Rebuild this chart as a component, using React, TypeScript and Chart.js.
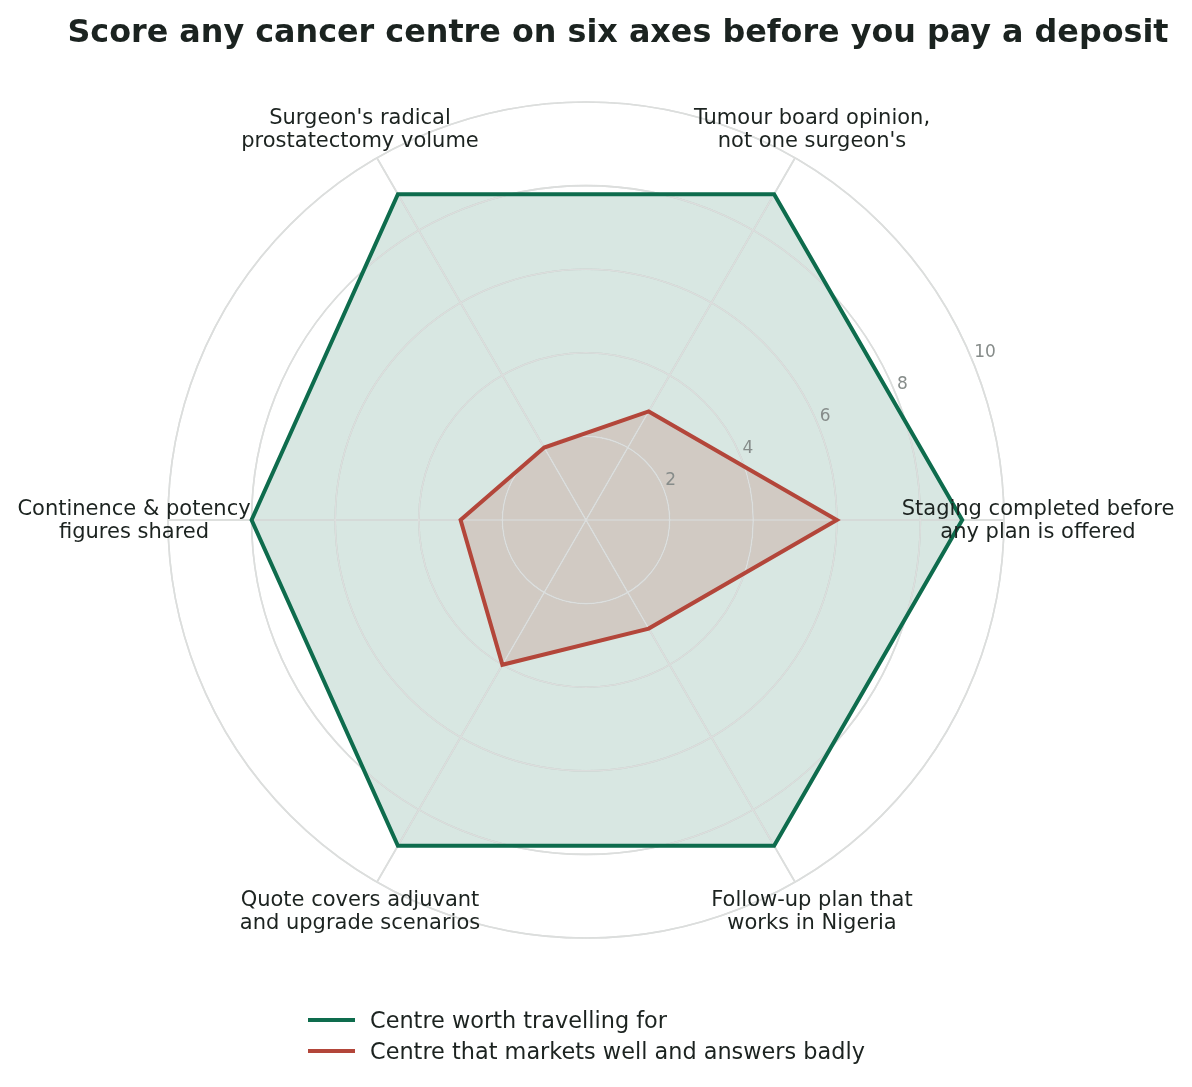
import React, { useEffect, useRef } from 'react';
import { Chart, registerables } from 'chart.js';

Chart.register(...registerables);

// axes in drawing order: starts at 3 o'clock, runs clockwise
const categories: string[][] = [
  ['Staging completed before', 'any plan is offered'],
  ['Follow-up plan that', 'works in Nigeria'],
  ['Quote covers adjuvant', 'and upgrade scenarios'],
  ['Continence & potency', 'figures shared'],
  ["Surgeon's radical", 'prostatectomy volume'],
  ['Tumour board opinion,', "not one surgeon's"],
];

const goodCentre = [9, 9, 9, 8, 9, 9];
const badCentre = [6, 3, 4, 3, 2, 3];
const tickValues = [2, 4, 6, 8, 10];

const seriesNames = ['Centre worth travelling for', 'Centre that markets well and answers badly'];

const GREEN = '#0e6c4d';
const RED = '#b3463a';
const FONT = '"DejaVu Sans", sans-serif';

const GREEN_LINE = 1; // dataset index of the green outline

// text around the web + radial tick labels drawn by hand, matplotlib-style
const axisText = {
  id: 'axisText',
  beforeDatasetDraw(chart: any, args: any) {
    // put the grid back on top of the fills, under the outlines
    if (args.index === GREEN_LINE) chart.scales.r.drawGrid();
  },
  afterDatasetsDraw(chart: any) {
    const r = chart.scales.r;
    const ctx = chart.ctx;
    ctx.save();
    ctx.font = `21px ${FONT}`;
    ctx.fillStyle = '#1c2320';
    ctx.textAlign = 'center';
    ctx.textBaseline = 'middle';
    categories.forEach((lines, i) => {
      const p = r.getPointPosition(i, r.drawingArea + 34);
      lines.forEach((ln, j) => {
        ctx.fillText(ln, p.x, p.y + 1 + (j - (lines.length - 1) / 2) * 23);
      });
    });

    ctx.font = `17px ${FONT}`;
    ctx.fillStyle = '#868c8a';
    ctx.textAlign = 'left';
    ctx.textBaseline = 'alphabetic';
    const a = (22.5 * Math.PI) / 180;
    tickValues.forEach((v) => {
      const d = r.getDistanceFromCenterForValue(v);
      const x = r.xCenter + Math.cos(a) * d;
      const y = r.yCenter - Math.sin(a) * d;
      ctx.fillText(String(v), x + 2, y - 3);
    });
    ctx.restore();
  },
};

function RadarChart() {
  const canvasRef = useRef<HTMLCanvasElement>(null);
  const chartRef = useRef<Chart | null>(null);

  useEffect(() => {
    if (!canvasRef.current) return;
    const ctx = canvasRef.current.getContext('2d');
    if (!ctx) return;

    chartRef.current = new Chart(ctx, {
      type: 'radar',
      data: {
        labels: categories,
        datasets: [
          {
            label: seriesNames[1],
            data: badCentre,
            borderColor: RED,
            borderWidth: 4,
            fill: false,
            pointRadius: 0,
            order: 1,
          },
          {
            label: seriesNames[0],
            data: goodCentre,
            borderColor: GREEN,
            borderWidth: 4,
            fill: false,
            pointRadius: 0,
            order: 2,
          },
          {
            label: seriesNames[1] + ' fill',
            data: badCentre,
            borderWidth: 0,
            backgroundColor: 'rgba(179, 70, 58, 0.18)',
            fill: true,
            pointRadius: 0,
            order: 3,
          },
          {
            label: seriesNames[0] + ' fill',
            data: goodCentre,
            borderWidth: 0,
            backgroundColor: 'rgba(14, 108, 77, 0.16)',
            fill: true,
            pointRadius: 0,
            order: 4,
          },
        ],
      },
      options: {
        responsive: false,
        animation: false,
        layout: { padding: { left: 168, right: 188, top: 102, bottom: 149 } },
        plugins: {
          legend: { display: false },
          tooltip: { enabled: false },
          title: { display: false },
        },
        elements: { line: { tension: 0, borderJoinStyle: 'miter' } },
        scales: {
          r: {
            min: 0,
            max: 10,
            startAngle: 90,
            ticks: { display: false, stepSize: 2 },
            pointLabels: { display: false },
            grid: { circular: true, color: '#dcdedd', lineWidth: 1.6 },
            angleLines: { color: '#dcdedd', lineWidth: 1.6 },
          },
        },
      },
      plugins: [axisText],
    });

    return () => {
      if (chartRef.current) {
        chartRef.current.destroy();
        chartRef.current = null;
      }
    };
  }, []);

  return <canvas ref={canvasRef} width={1192} height={1087} />;
}

export default function App() {
  const legendColors = [GREEN, RED];
  return (
    <div
      style={{
        position: 'absolute',
        left: 0,
        top: 0,
        width: 1192,
        height: 1087,
        background: '#fff',
        overflow: 'hidden',
        fontFamily: FONT,
      }}
    >
      <RadarChart />
      <div
        style={{
          position: 'absolute',
          left: 618,
          top: 15,
          transform: 'translateX(-50%)',
          whiteSpace: 'nowrap',
          fontSize: 31.8,
          lineHeight: '32px',
          fontWeight: 'bold',
          color: '#1b2320',
        }}
      >
        Score any cancer centre on six axes before you pay a deposit
      </div>
      {seriesNames.map((name, i) => (
        <div
          key={name}
          style={{
            position: 'absolute',
            left: 308,
            top: 1005 + i * 31,
            height: 30,
            display: 'flex',
            alignItems: 'center',
            whiteSpace: 'nowrap',
            fontSize: 22.4,
            color: '#1c2320',
          }}
        >
          <span style={{ display: 'inline-block', width: 47, height: 4, background: legendColors[i], marginRight: 15 }} />
          {name}
        </div>
      ))}
    </div>
  );
}
